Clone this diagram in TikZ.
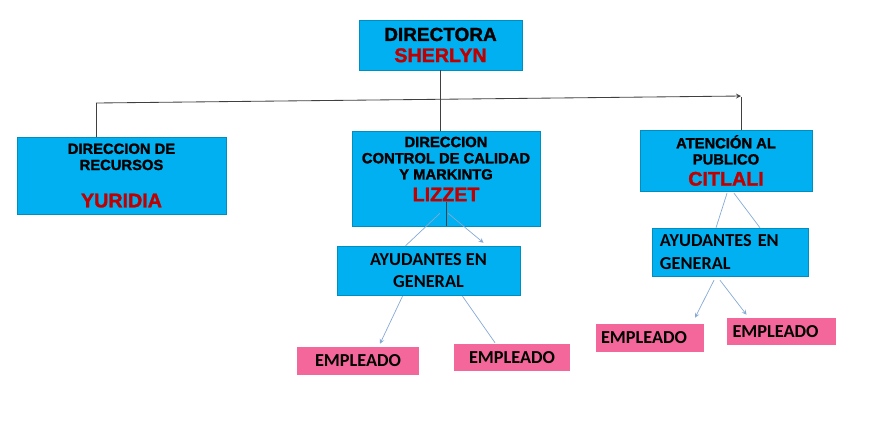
\documentclass[tikz,border=0pt]{standalone}
\usepackage{fontspec}
\setmainfont{Liberation Sans}[BoldFeatures={FakeBold=1.5}]
\newfontfamily\calibri{Carlito}
\usepackage{xcolor}
\usetikzlibrary{shapes,arrows,positioning,fit,calc}

\definecolor{boxblue}{HTML}{00B0F0}
\definecolor{boxpink}{HTML}{F4679B}
\definecolor{namered}{HTML}{C00000}
\definecolor{linkblue}{HTML}{85A9D4}

\newcommand{\nombre}[1]{{\fontsize{14}{17}\selectfont\color{namered}#1}}

\begin{document}
\begin{tikzpicture}[
    x=0.025cm, y=-0.025cm,
    box/.style={rectangle, draw=boxblue!80!black, line width=0.3pt, fill=boxblue, align=center, inner sep=0pt, font=\bfseries\fontsize{10.5}{11.5}\selectfont},
    helpbox/.style={rectangle, draw=boxblue!80!black, line width=0.3pt, fill=boxblue, align=center, inner sep=0pt, font=\calibri\bfseries\fontsize{13}{15.5}\selectfont},
    emplbox/.style={rectangle, fill=boxpink, inner sep=0pt, font=\calibri\bfseries\fontsize{13}{15}\selectfont},
    line/.style={draw=black!75, line width=0.6pt},
    arrow/.style={->, >=stealth, line width=0.6pt},
    blueline/.style={draw=linkblue, line width=0.5pt},
    bluearrow/.style={->, >=stealth, draw=linkblue, line width=0.5pt}
]
\useasboundingbox (0,0) rectangle (872,437);

% Directora
\node[box, minimum width=4.075cm, minimum height=1.25cm, font=\bfseries\fontsize{13.5}{15}\selectfont] (directora) at (440.5,45) {DIRECTORA\\\nombre{SHERLYN}};

% Direcciones
\node[box, minimum width=5.225cm, minimum height=1.925cm] (recursos) at (121.5,175.5) {DIRECCION DE\\RECURSOS\\[15pt]\nombre{YURIDIA}};
\node[box, minimum width=4.7cm, minimum height=2.375cm] (calidad) at (446,178.5) {};
\node[align=center, inner sep=0pt, font=\bfseries\fontsize{10.5}{11.5}\selectfont] (calidadtxt) at (446,169) {DIRECCION\\CONTROL DE CALIDAD\\Y MARKINTG\\[4pt]\nombre{LIZZET}};
\node[box, minimum width=4.3cm, minimum height=1.525cm] (atencion) at (726,160.5) {ATENCI\'ON AL\\PUBLICO\\[3.5pt]\nombre{CITLALI}};

% Ayudantes
\node[helpbox, minimum width=4.575cm, minimum height=1.225cm] (ayuda1) at (428.5,270.5) {AYUDANTES EN\\GENERAL};
\node[helpbox, align=left, text width=3.5cm, inner xsep=0.2cm, minimum height=1.2cm] (ayuda2) at (730,252) {AYUDANTES EN\\[1pt]GENERAL};

% Empleados
\node[emplbox, minimum width=3.05cm, minimum height=0.7cm] (emp1) at (358,361) {EMPLEADO};
\node[emplbox, minimum width=2.9cm, minimum height=0.675cm] (emp2) at (512,357.5) {EMPLEADO};
\node[emplbox, minimum width=2.7cm, minimum height=0.7cm] (emp3) at (650,338) {\hspace*{-0.3cm}EMPLEADO};
\node[emplbox, minimum width=2.725cm, minimum height=0.675cm] (emp4) at (781.5,331.5) {\hspace*{-0.3cm}EMPLEADO};

% Lineas principales
\coordinate (izq) at (96,103);
\coordinate (der) at (741,96);
\draw[line] (directora.south) -- (directora.south |- calidad.north);
\draw[line, arrow] (izq) -- (der);
\draw[line] (izq) -- (izq |- recursos.north);
\draw[line] ($(der)+(0,1)$) -- (der |- atencion.north);
\draw[line] (calidadtxt.south -| calidad.south) -- (calidad.south);

% Lineas azules
\draw[blueline] ($(calidad.south)+(-6,-13)$) -- ($(ayuda1.north)+(-23,0)$);
\draw[bluearrow] ($(calidad.south)+(2,-13)$) -- ($(ayuda1.north)+(55,-3)$);
\draw[bluearrow] ($(ayuda1.south)+(-26,1)$) -- ($(emp1.north)+(22,-3)$);
\draw[blueline] ($(ayuda1.south)+(34,1)$) -- ($(emp2.north)+(-17,-1)$);
\draw[blueline] ($(atencion.south)+(1,2)$) -- ($(ayuda2.north)+(-14,0)$);
\draw[blueline] ($(atencion.south)+(8,2)$) -- ($(ayuda2.north)+(30,0)$);
\draw[bluearrow] ($(ayuda2.south)+(-16,4)$) -- ($(emp3.north)+(45,-6)$);
\draw[bluearrow] ($(ayuda2.south)+(-10,4)$) -- ($(emp4.north)+(-35,-3)$);

\end{tikzpicture}
\end{document}
